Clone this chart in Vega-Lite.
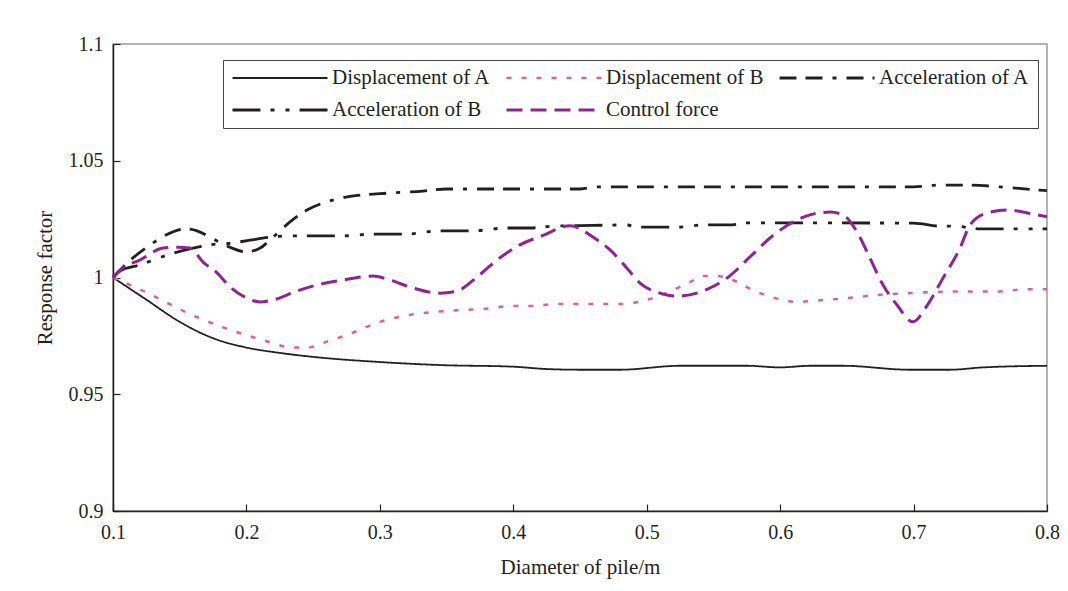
{
  "$schema": "https://vega.github.io/schema/vega-lite/v6.json",
  "width": 934,
  "height": 467,
  "autosize": {"type": "none"},
  "padding": {"left": 113, "top": 44, "right": 21, "bottom": 80},
  "background": "white",
  "config": {
    "font": "Liberation Serif",
    "view": {"stroke": "#9a9a9a", "strokeWidth": 1.5},
    "axis": {
      "grid": false,
      "domainColor": "#231f20",
      "domainWidth": 1.5,
      "tickColor": "#231f20",
      "tickWidth": 1.2,
      "tickSize": -7,
      "labelFont": "Liberation Serif",
      "labelFontSize": 20,
      "labelColor": "#231f20",
      "titleFont": "Liberation Serif",
      "titleFontWeight": "normal",
      "titleColor": "#231f20",
      "labelFlush": false,
      "labelOverlap": false
    }
  },
  "data": {
    "values": [
      {"d": 0.1, "v": 1.0, "s": "Displacement of A"},
      {"d": 0.125, "v": 0.9905, "s": "Displacement of A"},
      {"d": 0.15, "v": 0.981, "s": "Displacement of A"},
      {"d": 0.175, "v": 0.974, "s": "Displacement of A"},
      {"d": 0.2, "v": 0.97, "s": "Displacement of A"},
      {"d": 0.225, "v": 0.9677, "s": "Displacement of A"},
      {"d": 0.25, "v": 0.966, "s": "Displacement of A"},
      {"d": 0.3, "v": 0.9638, "s": "Displacement of A"},
      {"d": 0.345, "v": 0.9625, "s": "Displacement of A"},
      {"d": 0.4, "v": 0.9618, "s": "Displacement of A"},
      {"d": 0.425, "v": 0.9608, "s": "Displacement of A"},
      {"d": 0.45, "v": 0.9605, "s": "Displacement of A"},
      {"d": 0.48, "v": 0.9605, "s": "Displacement of A"},
      {"d": 0.525, "v": 0.9622, "s": "Displacement of A"},
      {"d": 0.575, "v": 0.9622, "s": "Displacement of A"},
      {"d": 0.6, "v": 0.9615, "s": "Displacement of A"},
      {"d": 0.6224, "v": 0.9622, "s": "Displacement of A"},
      {"d": 0.647, "v": 0.9622, "s": "Displacement of A"},
      {"d": 0.697, "v": 0.9605, "s": "Displacement of A"},
      {"d": 0.727, "v": 0.9605, "s": "Displacement of A"},
      {"d": 0.752, "v": 0.9615, "s": "Displacement of A"},
      {"d": 0.8, "v": 0.9622, "s": "Displacement of A"},

      {"d": 0.1, "v": 1.0, "s": "Displacement of B"},
      {"d": 0.1217, "v": 0.9945, "s": "Displacement of B"},
      {"d": 0.163, "v": 0.983, "s": "Displacement of B"},
      {"d": 0.2124, "v": 0.9732, "s": "Displacement of B"},
      {"d": 0.235, "v": 0.97, "s": "Displacement of B"},
      {"d": 0.245, "v": 0.97, "s": "Displacement of B"},
      {"d": 0.2626, "v": 0.973, "s": "Displacement of B"},
      {"d": 0.2754, "v": 0.9754, "s": "Displacement of B"},
      {"d": 0.3, "v": 0.981, "s": "Displacement of B"},
      {"d": 0.3226, "v": 0.984, "s": "Displacement of B"},
      {"d": 0.351, "v": 0.9857, "s": "Displacement of B"},
      {"d": 0.3773, "v": 0.9865, "s": "Displacement of B"},
      {"d": 0.4, "v": 0.9878, "s": "Displacement of B"},
      {"d": 0.4125, "v": 0.9878, "s": "Displacement of B"},
      {"d": 0.4335, "v": 0.9887, "s": "Displacement of B"},
      {"d": 0.4822, "v": 0.9887, "s": "Displacement of B"},
      {"d": 0.5, "v": 0.9904, "s": "Displacement of B"},
      {"d": 0.5324, "v": 0.998, "s": "Displacement of B"},
      {"d": 0.542, "v": 1.0006, "s": "Displacement of B"},
      {"d": 0.5527, "v": 1.0006, "s": "Displacement of B"},
      {"d": 0.5602, "v": 0.9998, "s": "Displacement of B"},
      {"d": 0.5827, "v": 0.9938, "s": "Displacement of B"},
      {"d": 0.6021, "v": 0.9904, "s": "Displacement of B"},
      {"d": 0.6126, "v": 0.9895, "s": "Displacement of B"},
      {"d": 0.6246, "v": 0.99, "s": "Displacement of B"},
      {"d": 0.647, "v": 0.991, "s": "Displacement of B"},
      {"d": 0.6726, "v": 0.9925, "s": "Displacement of B"},
      {"d": 0.697, "v": 0.9933, "s": "Displacement of B"},
      {"d": 0.7348, "v": 0.994, "s": "Displacement of B"},
      {"d": 0.7625, "v": 0.994, "s": "Displacement of B"},
      {"d": 0.785, "v": 0.995, "s": "Displacement of B"},
      {"d": 0.8, "v": 0.995, "s": "Displacement of B"},

      {"d": 0.1, "v": 1.0, "s": "Acceleration of A"},
      {"d": 0.1075, "v": 1.0045, "s": "Acceleration of A"},
      {"d": 0.13, "v": 1.0148, "s": "Acceleration of A"},
      {"d": 0.1427, "v": 1.019, "s": "Acceleration of A"},
      {"d": 0.154, "v": 1.0208, "s": "Acceleration of A"},
      {"d": 0.163, "v": 1.02, "s": "Acceleration of A"},
      {"d": 0.1727, "v": 1.0173, "s": "Acceleration of A"},
      {"d": 0.1854, "v": 1.0135, "s": "Acceleration of A"},
      {"d": 0.2, "v": 1.011, "s": "Acceleration of A"},
      {"d": 0.21, "v": 1.0125, "s": "Acceleration of A"},
      {"d": 0.22, "v": 1.0173, "s": "Acceleration of A"},
      {"d": 0.2327, "v": 1.0238, "s": "Acceleration of A"},
      {"d": 0.2454, "v": 1.0289, "s": "Acceleration of A"},
      {"d": 0.2574, "v": 1.0319, "s": "Acceleration of A"},
      {"d": 0.2754, "v": 1.0345, "s": "Acceleration of A"},
      {"d": 0.3076, "v": 1.0362, "s": "Acceleration of A"},
      {"d": 0.3323, "v": 1.037, "s": "Acceleration of A"},
      {"d": 0.35, "v": 1.0379, "s": "Acceleration of A"},
      {"d": 0.45, "v": 1.0379, "s": "Acceleration of A"},
      {"d": 0.4627, "v": 1.0388, "s": "Acceleration of A"},
      {"d": 0.6, "v": 1.0388, "s": "Acceleration of A"},
      {"d": 0.7, "v": 1.0388, "s": "Acceleration of A"},
      {"d": 0.72, "v": 1.0396, "s": "Acceleration of A"},
      {"d": 0.742, "v": 1.0396, "s": "Acceleration of A"},
      {"d": 0.765, "v": 1.0388, "s": "Acceleration of A"},
      {"d": 0.7925, "v": 1.0375, "s": "Acceleration of A"},
      {"d": 0.8, "v": 1.0372, "s": "Acceleration of A"},

      {"d": 0.1, "v": 1.0, "s": "Acceleration of B"},
      {"d": 0.1052, "v": 1.0028, "s": "Acceleration of B"},
      {"d": 0.1202, "v": 1.0054, "s": "Acceleration of B"},
      {"d": 0.1405, "v": 1.0096, "s": "Acceleration of B"},
      {"d": 0.16, "v": 1.0126, "s": "Acceleration of B"},
      {"d": 0.1727, "v": 1.014, "s": "Acceleration of B"},
      {"d": 0.19, "v": 1.0148, "s": "Acceleration of B"},
      {"d": 0.2027, "v": 1.016, "s": "Acceleration of B"},
      {"d": 0.2177, "v": 1.0173, "s": "Acceleration of B"},
      {"d": 0.23, "v": 1.0178, "s": "Acceleration of B"},
      {"d": 0.272, "v": 1.0178, "s": "Acceleration of B"},
      {"d": 0.295, "v": 1.0186, "s": "Acceleration of B"},
      {"d": 0.32, "v": 1.0186, "s": "Acceleration of B"},
      {"d": 0.345, "v": 1.02, "s": "Acceleration of B"},
      {"d": 0.37, "v": 1.02, "s": "Acceleration of B"},
      {"d": 0.395, "v": 1.0212, "s": "Acceleration of B"},
      {"d": 0.4125, "v": 1.0212, "s": "Acceleration of B"},
      {"d": 0.43, "v": 1.022, "s": "Acceleration of B"},
      {"d": 0.45, "v": 1.0222, "s": "Acceleration of B"},
      {"d": 0.485, "v": 1.0225, "s": "Acceleration of B"},
      {"d": 0.4927, "v": 1.0216, "s": "Acceleration of B"},
      {"d": 0.525, "v": 1.0216, "s": "Acceleration of B"},
      {"d": 0.542, "v": 1.0225, "s": "Acceleration of B"},
      {"d": 0.562, "v": 1.0225, "s": "Acceleration of B"},
      {"d": 0.575, "v": 1.0234, "s": "Acceleration of B"},
      {"d": 0.7, "v": 1.0233, "s": "Acceleration of B"},
      {"d": 0.72, "v": 1.022, "s": "Acceleration of B"},
      {"d": 0.7325, "v": 1.022, "s": "Acceleration of B"},
      {"d": 0.7445, "v": 1.021, "s": "Acceleration of B"},
      {"d": 0.75, "v": 1.0208, "s": "Acceleration of B"},
      {"d": 0.8, "v": 1.0208, "s": "Acceleration of B"},

      {"d": 0.1, "v": 1.0, "s": "Control force"},
      {"d": 0.1075, "v": 1.0041, "s": "Control force"},
      {"d": 0.1202, "v": 1.0075, "s": "Control force"},
      {"d": 0.1375, "v": 1.0126, "s": "Control force"},
      {"d": 0.148, "v": 1.013, "s": "Control force"},
      {"d": 0.1577, "v": 1.0126, "s": "Control force"},
      {"d": 0.1675, "v": 1.0066, "s": "Control force"},
      {"d": 0.178, "v": 1.002, "s": "Control force"},
      {"d": 0.1877, "v": 0.996, "s": "Control force"},
      {"d": 0.2004, "v": 0.9912, "s": "Control force"},
      {"d": 0.2102, "v": 0.9895, "s": "Control force"},
      {"d": 0.22, "v": 0.9904, "s": "Control force"},
      {"d": 0.2379, "v": 0.9942, "s": "Control force"},
      {"d": 0.2529, "v": 0.9968, "s": "Control force"},
      {"d": 0.2724, "v": 0.9989, "s": "Control force"},
      {"d": 0.2949, "v": 1.0006, "s": "Control force"},
      {"d": 0.3076, "v": 0.9989, "s": "Control force"},
      {"d": 0.3248, "v": 0.9955, "s": "Control force"},
      {"d": 0.3451, "v": 0.9933, "s": "Control force"},
      {"d": 0.3578, "v": 0.9942, "s": "Control force"},
      {"d": 0.3728, "v": 1.0002, "s": "Control force"},
      {"d": 0.3878, "v": 1.0075, "s": "Control force"},
      {"d": 0.405, "v": 1.014, "s": "Control force"},
      {"d": 0.4223, "v": 1.018, "s": "Control force"},
      {"d": 0.4425, "v": 1.0222, "s": "Control force"},
      {"d": 0.4597, "v": 1.0173, "s": "Control force"},
      {"d": 0.4725, "v": 1.0118, "s": "Control force"},
      {"d": 0.4852, "v": 1.004, "s": "Control force"},
      {"d": 0.495, "v": 0.9976, "s": "Control force"},
      {"d": 0.51, "v": 0.9933, "s": "Control force"},
      {"d": 0.5227, "v": 0.992, "s": "Control force"},
      {"d": 0.5474, "v": 0.9955, "s": "Control force"},
      {"d": 0.5602, "v": 0.9998, "s": "Control force"},
      {"d": 0.5774, "v": 1.0088, "s": "Control force"},
      {"d": 0.5946, "v": 1.018, "s": "Control force"},
      {"d": 0.6126, "v": 1.0246, "s": "Control force"},
      {"d": 0.6224, "v": 1.0268, "s": "Control force"},
      {"d": 0.6374, "v": 1.028, "s": "Control force"},
      {"d": 0.6471, "v": 1.0268, "s": "Control force"},
      {"d": 0.6576, "v": 1.0195, "s": "Control force"},
      {"d": 0.6673, "v": 1.0083, "s": "Control force"},
      {"d": 0.6771, "v": 0.9968, "s": "Control force"},
      {"d": 0.6876, "v": 0.9882, "s": "Control force"},
      {"d": 0.6996, "v": 0.981, "s": "Control force"},
      {"d": 0.7101, "v": 0.988, "s": "Control force"},
      {"d": 0.7221, "v": 0.9998, "s": "Control force"},
      {"d": 0.7348, "v": 1.0126, "s": "Control force"},
      {"d": 0.7423, "v": 1.0225, "s": "Control force"},
      {"d": 0.755, "v": 1.0276, "s": "Control force"},
      {"d": 0.77, "v": 1.0289, "s": "Control force"},
      {"d": 0.7895, "v": 1.0272, "s": "Control force"},
      {"d": 0.8, "v": 1.026, "s": "Control force"}
    ]
  },
  "mark": {"type": "line", "interpolate": "monotone"},
  "encoding": {
    "x": {
      "field": "d",
      "type": "quantitative",
      "scale": {"domain": [0.1, 0.8], "nice": false, "zero": false},
      "axis": {
        "values": [0.1, 0.2, 0.3, 0.4, 0.5, 0.6, 0.7, 0.8],
        "format": ".1f",
        "labelPadding": 18,
        "title": "Diameter of pile/m",
        "titleFontSize": 21,
        "titlePadding": 14
      }
    },
    "y": {
      "field": "v",
      "type": "quantitative",
      "scale": {"domain": [0.9, 1.1], "nice": false, "zero": false},
      "axis": {
        "values": [0.9, 0.95, 1, 1.05, 1.1],
        "format": ".3~g",
        "labelPadding": 17,
        "title": "Response factor",
        "titleFontSize": 21,
        "titlePadding": 13
      }
    },
    "color": {
      "field": "s",
      "type": "nominal",
      "scale": {
        "domain": ["Displacement of A", "Displacement of B", "Acceleration of A", "Acceleration of B", "Control force"],
        "range": ["#231f20", "#d462a8", "#231f20", "#231f20", "#8e2392"]
      },
      "legend": {
        "title": null,
        "orient": "none",
        "legendX": 110,
        "legendY": 16,
        "columns": 3,
        "direction": "horizontal",
        "symbolType": "stroke",
        "symbolSize": 9025,
        "symbolStrokeWidth": 2.5,
        "clipHeight": 20,
        "labelFont": "Liberation Serif",
        "labelFontSize": 21,
        "labelColor": "#231f20",
        "labelOffset": 3,
        "labelLimit": 300,
        "columnPadding": 14,
        "rowPadding": 11,
        "padding": 8,
        "strokeColor": "#444444",
        "fillColor": "white"
      }
    },
    "strokeDash": {
      "field": "s",
      "type": "nominal",
      "scale": {
        "domain": ["Displacement of A", "Displacement of B", "Acceleration of A", "Acceleration of B", "Control force"],
        "range": [[1, 0], [5, 10], [17, 9, 17, 10, 4, 10], [28, 10, 4, 11, 4, 10], [16, 8]]
      }
    },
    "strokeWidth": {
      "field": "s",
      "type": "nominal",
      "scale": {
        "type": "ordinal",
        "domain": ["Displacement of A", "Displacement of B", "Acceleration of A", "Acceleration of B", "Control force"],
        "range": [1.8, 2.5, 2.8, 2.8, 3]
      },
      "legend": null
    }
  }
}
